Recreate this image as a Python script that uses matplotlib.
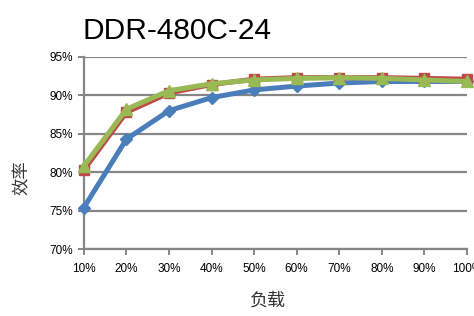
import numpy as np
import matplotlib
matplotlib.use('Agg')
import matplotlib.pyplot as plt
from matplotlib.ticker import FuncFormatter

# load levels (%) and efficiency (%)
load = [10, 20, 30, 40, 50, 60, 70, 80, 90, 100]
eff_blue = [75.4, 84.3, 88.0, 89.7, 90.7, 91.2, 91.6, 91.8, 91.8, 91.8]
eff_red = [80.3, 87.8, 90.3, 91.4, 92.1, 92.3, 92.3, 92.3, 92.2, 92.1]
eff_green = [80.8, 88.2, 90.6, 91.5, 92.0, 92.2, 92.3, 92.2, 92.0, 91.8]

title = "DDR-480C-24"
xlabel = "负载"
ylabel = "效率"

plt.rcParams['font.family'] = ['Liberation Sans', 'DejaVu Sans']

fig = plt.figure(figsize=(4.74, 3.16), dpi=100)
ax = fig.add_axes([0.177, 0.212, 0.808, 0.608])

grid_col = '#868686'
ax.set_xlim(10, 100)
ax.set_ylim(70, 95)
ax.set_yticks([70, 75, 80, 85, 90, 95])
ax.set_xticks(load)
ax.yaxis.grid(True, color=grid_col, linewidth=1.6)
ax.set_axisbelow(True)
ax.xaxis.set_major_formatter(FuncFormatter(lambda v, p: f"{int(v)}%"))
ax.yaxis.set_major_formatter(FuncFormatter(lambda v, p: f"{int(v)}%"))

for s in ['top', 'right']:
    ax.spines[s].set_visible(False)
for s in ['left', 'bottom']:
    ax.spines[s].set_color(grid_col)
    ax.spines[s].set_linewidth(1.6)
ax.tick_params(axis='both', direction='out', length=4, width=1.4, color=grid_col,
               labelsize=8.5, labelcolor='black')
ax.tick_params(axis='x', pad=6)

series = [
    (eff_blue, '#4A7EBB', 'D', 6.5),
    (eff_red, '#BE4B48', 's', 7.5),
    (eff_green, '#98B954', '^', 8.5),
]
for vals, col, mk, ms in series:
    ax.plot(load, vals, color=col, linewidth=3.6, marker=mk, markersize=ms,
            markerfacecolor=col, markeredgecolor=col, clip_on=False, zorder=3)

fig.text(0.173, 0.902, title, fontsize=21.5, ha='left', va='center', color='black')
fig.text(0.046, 0.437, ylabel, rotation=90, fontsize=12.5, ha='center', va='center',
         family=['Noto Sans CJK SC'], fontweight='light', color='#333333')
fig.text(0.565, 0.05, xlabel, fontsize=13, ha='center', va='center',
         family=['Noto Sans CJK SC'], fontweight='light', color='#333333')

fig.savefig('out.png', dpi=100)
